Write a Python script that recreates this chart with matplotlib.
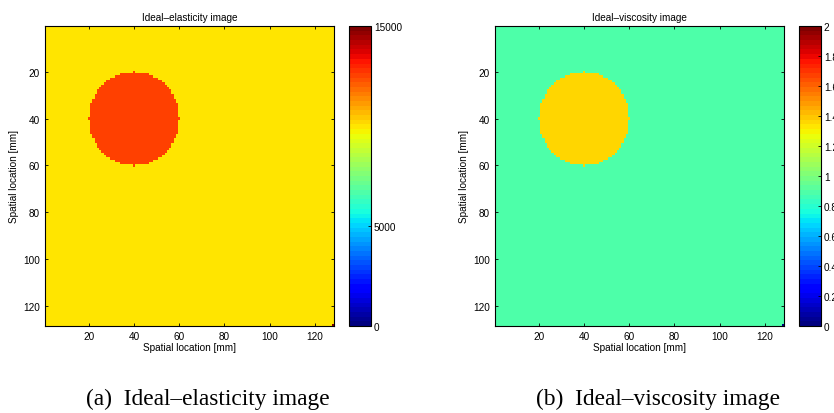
import numpy as np
import matplotlib.pyplot as plt

# phantom description
size = 128
center = (40, 40)  # (x, y) in pixels
radius = 20
elast_background = 9900
elast_inclusion = 12650
elast_corner = 15000
visc_background = 0.9
visc_inclusion = 1.35
visc_corner = 0.0
elast_cticks = [0, 5000, 15000]
visc_cticks = [0, 0.2, 0.4, 0.6, 0.8, 1, 1.2, 1.4, 1.6, 1.8, 2]
axis_ticks = [20, 40, 60, 80, 100, 120]


def phantom(bg, inc, corner):
    yy, xx = np.mgrid[1:size + 1, 1:size + 1]
    img = np.full((size, size), float(bg))
    img[(xx - center[0]) ** 2 + (yy - center[1]) ** 2 <= radius ** 2] = inc
    img[-1, -1] = corner
    return img


plt.rcParams['font.family'] = ['Liberation Sans', 'DejaVu Sans']
plt.rcParams['xtick.direction'] = 'in'
plt.rcParams['ytick.direction'] = 'in'

cmap = plt.get_cmap('jet', 64)
fig = plt.figure(figsize=(8.34, 4.14), dpi=100)
W, H = 834.0, 414.0

panels = [
    (phantom(elast_background, elast_inclusion, elast_corner), 0, 15000,
     elast_cticks, [str(t) for t in elast_cticks], 'Ideal\u2013elasticity image',
     45, 349, '(a)  Ideal\u2013elasticity image', 208),
    (phantom(visc_background, visc_inclusion, visc_corner), 0, 2,
     visc_cticks, ['%g' % t for t in visc_cticks], 'Ideal\u2013viscosity image',
     495, 799, '(b)  Ideal\u2013viscosity image', 658),
]

fs = 7.2
top, bottom = 27, 327
for img, vmin, vmax, cticks, clabels, title, x0, cx0, caption, capx in panels:
    ax = fig.add_axes([x0 / W, 1 - bottom / H, 289 / W, (bottom - top) / H])
    im = ax.imshow(img, cmap=cmap, vmin=vmin, vmax=vmax, aspect='auto',
                   extent=(0.5, size + 0.5, size + 0.5, 0.5),
                   interpolation='nearest')
    ax.set_xticks(axis_ticks)
    ax.set_yticks(axis_ticks)
    ax.tick_params(labelsize=fs, length=2.5, width=0.6, top=True, right=True)
    ax.set_title(title, fontsize=fs, pad=4)
    ax.set_xlabel('Spatial location [mm]', fontsize=fs, labelpad=1)
    ax.set_ylabel('Spatial location [mm]', fontsize=fs, labelpad=3)
    for s in ax.spines.values():
        s.set_linewidth(0.8)

    cax = fig.add_axes([cx0 / W, 1 - bottom / H, 22 / W, (bottom - top) / H])
    cb = fig.colorbar(im, cax=cax, ticks=cticks)
    cb.ax.set_yticklabels(clabels)
    cb.ax.tick_params(labelsize=fs, length=2.5, width=0.6, direction='in', pad=2)
    cb.outline.set_linewidth(0.8)

    fig.text(capx / W, 1 - 399 / H, caption, ha='center', va='center',
             fontsize=16.8, family=['Liberation Serif', 'DejaVu Serif'])

fig.savefig('out.png', dpi=100)
